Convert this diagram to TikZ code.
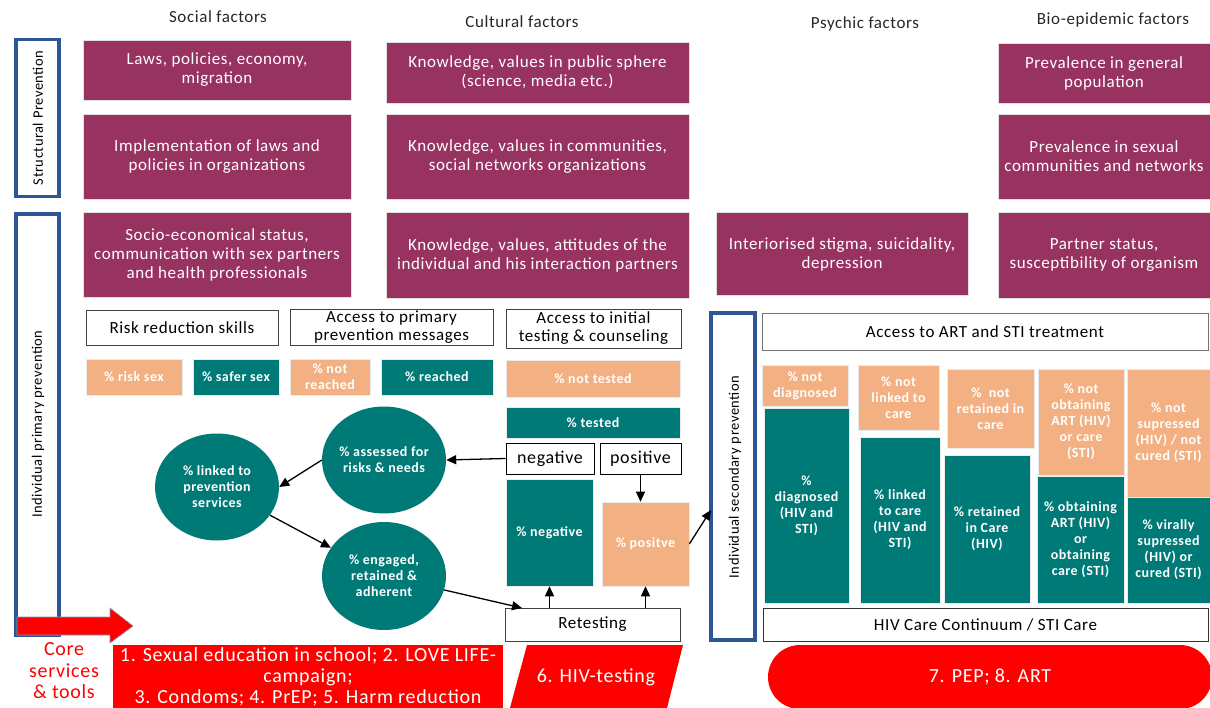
\documentclass[tikz,border=0pt]{standalone}
\usepackage{fontspec}
\setmainfont{Carlito}[LetterSpace=3.5]
\usetikzlibrary{shapes.geometric,arrows.meta,calc}
\definecolor{purp}{RGB}{152,50,97}
\definecolor{tealc}{RGB}{0,122,119}
\definecolor{peachc}{RGB}{243,176,130}
\definecolor{bluec}{RGB}{47,85,151}
\definecolor{redc}{RGB}{255,0,0}
\begin{document}
\begin{tikzpicture}[x=1pt,y=-1pt,
  hdr/.style={font=\fontsize{17}{19}\selectfont, text=black!85},
  pbox/.style={rectangle, fill=purp, draw=black!12, line width=0.6pt, text=white, align=center, inner sep=0pt, font=\fontsize{17}{19}\selectfont},
  wbox/.style={rectangle, fill=white, draw=black!75, line width=0.9pt, align=center, inner sep=0pt, font=\fontsize{17}{18}\selectfont},
  pch/.style={rectangle, fill=peachc, draw=black!8, line width=0.6pt, text=white, align=center, inner sep=0pt, font=\bfseries\fontsize{14}{16}\selectfont},
  tl/.style={rectangle, fill=tealc, draw=black!8, line width=0.6pt, text=white, align=center, inner sep=0pt, font=\bfseries\fontsize{14}{16}\selectfont},
  circ/.style={ellipse, fill=tealc, text=white, align=center, inner sep=0pt, inner xsep=-6pt, font=\bfseries\fontsize{14}{16}\selectfont},
  bluebox/.style={rectangle, draw=bluec, line width=3.5pt, inner sep=0pt},
  vlab/.style={rotate=90, font=\fontsize{14.5}{16}\selectfont},
  arr/.style={-{Triangle[length=10pt,width=9pt]}, line width=1.3pt},
  redbox/.style={fill=redc, text=white, font=\fontsize{20}{21}\selectfont, align=center, inner sep=0pt}
]
\useasboundingbox (0,0) rectangle (1210,708);

% headers
\node[hdr] (h1) at (218,17) {Social factors};
\node[hdr] (h2) at (522,22) {Cultural factors};
\node[hdr] (h3) at (865,24) {Psychic factors};
\node[hdr] (h4) at (1113,20) {Bio-epidemic factors};

% blue frames
\node[bluebox, minimum width=43, minimum height=157] (sp) at (37.5,118) {};
\node[vlab] (spl) at (38,118) {Structural Prevention};
\node[bluebox, minimum width=43, minimum height=421] (ipp) at (37.5,424.5) {};
\node[vlab] (ippl) at (38,424) {Individual primary prevention};
\node[bluebox, minimum width=44, minimum height=327] (isp) at (733,476.5) {};
\node[vlab] (ispl) at (735,477) {Individual secondary prevention};

% purple rows
\node[pbox, minimum width=268, minimum height=60] (p11) at (217,70) {Laws, policies, economy,\\migration};
\node[pbox, minimum width=303, minimum height=61] (p12) at (537.5,72.5) {Knowledge, values in public sphere\\(science, media etc.)};
\node[pbox, minimum width=212, minimum height=60] (p14) at (1104,73) {Prevalence in general\\population};
\node[pbox, minimum width=268, minimum height=85] (p21) at (217,156.5) {Implementation of laws and\\policies in organizations};
\node[pbox, minimum width=303, minimum height=85] (p22) at (537.5,156.5) {Knowledge, values in communities,\\social networks organizations};
\node[pbox, minimum width=212, minimum height=85] (p24) at (1104,156.5) {Prevalence in sexual\\communities and networks};
\node[pbox, minimum width=268, minimum height=85] (p31) at (217,254.5) {Socio-economical status,\\communication with sex partners\\and health professionals};
\node[pbox, minimum width=303, minimum height=86] (p32) at (537.5,255) {Knowledge, values, attitudes of the\\individual and his interaction partners};
\node[pbox, minimum width=252, minimum height=83] (p33) at (842,254) {Interiorised stigma, suicidality,\\depression};
\node[pbox, minimum width=212, minimum height=86] (p34) at (1104,255) {Partner status,\\susceptibility of organism};

% primary prevention boxes
\node[wbox, minimum width=192, minimum height=35] (rrs) at (182,327.5) {Risk reduction skills};
\node[wbox, minimum width=203, minimum height=36] (apm) at (391.5,327) {Access to primary\\prevention messages};
\node[wbox, minimum width=175, minimum height=39] (ait) at (593.5,328.5) {Access to initial\\testing \& counseling};

\node[pch, minimum width=96, minimum height=36] (rs) at (134,377) {\% risk sex};
\node[tl, minimum width=86, minimum height=36] (ss) at (236,377) {\% safer sex};
\node[pch, minimum width=80, minimum height=36] (nr) at (330,377) {\% not\\reached};
\node[tl, minimum width=112, minimum height=36] (re) at (437,377) {\% reached};
\node[pch, minimum width=174, minimum height=37] (nt) at (593,378.5) {\% not tested};
\node[tl, minimum width=174, minimum height=31] (te) at (593,422.5) {\% tested};
\node[wbox, draw=black, font=\fontsize{18}{19}\selectfont, minimum width=88, minimum height=31] (neg) at (550,458.5) {negative};
\node[wbox, draw=black, font=\fontsize{18}{19}\selectfont, minimum width=81, minimum height=31] (posb) at (640.5,458.5) {positive};
\node[tl, minimum width=87, minimum height=107] (negp) at (549.5,532.5) {\% negative};
\node[pch, minimum width=87, minimum height=84] (posp) at (645.5,544) {\% positve};
\node[wbox, minimum width=175, minimum height=33] (ret) at (592.5,624.5) {Retesting};

% circles
\node[circ, minimum width=124, minimum height=107] (linked) at (217,487) {\% linked to\\prevention\\services};
\node[circ, minimum width=124, minimum height=107] (assess) at (384,460) {\% assessed for\\risks \& needs};
\node[circ, minimum width=124, minimum height=108] (eng) at (384,576) {\% engaged,\\retained \&\\adherent};

% connectors
\coordinate (retin) at (522,608);
\coordinate (secin) at (711,510);
\draw[arr] (neg.west) -- (assess.east);
\draw[arr] (assess.west) -- (linked.east);
\draw[arr] (linked.-28) -- (eng.152);
\draw[arr] (eng) -- (retin);
\draw[arr] (negp.south |- ret.north) -- (negp.south);
\draw[arr] (posp.south |- ret.north) -- (posp.south);
\draw[arr] (posb.south) -- (posb.south |- posp.north);
\draw[arr] (posp.east) -- (secin);

% secondary prevention
\node[wbox, draw=black!55, minimum width=446, minimum height=37] (art) at (985,331.5) {Access to ART and STI treatment};
\node[pch, minimum width=86, minimum height=41] (c1a) at (805,385.5) {\% not\\diagnosed};
\node[tl, minimum width=85, minimum height=195] (c1b) at (806.5,505.5) {\%\\diagnosed\\(HIV and\\STI)};
\node[pch, minimum width=81, minimum height=65] (c2a) at (898.5,397.5) {\% not\\linked to\\care};
\node[tl, minimum width=80, minimum height=166] (c2b) at (900,520) {\% linked\\to care\\(HIV and\\STI)};
\node[pch, minimum width=87, minimum height=79] (c3a) at (990.5,408.5) {\%~ not\\retained in\\care};
\node[tl, minimum width=86, minimum height=148] (c3b) at (987,529) {\% retained\\in Care\\(HIV)};
\node[pch, minimum width=86, minimum height=106] (c4a) at (1081,422) {\% not\\obtaining\\ART (HIV)\\or care\\(STI)};
\node[tl, minimum width=87, minimum height=127] (c4b) at (1080.5,539.5) {\% obtaining\\ART (HIV)\\or\\obtaining\\care (STI)};
\node[pch, minimum width=83, minimum height=128] (c5a) at (1168.5,433) {\% not\\supressed\\(HIV) / not\\cured (STI)};
\node[tl, minimum width=83, minimum height=106] (c5b) at (1168.5,550) {\% virally\\supressed\\(HIV) or\\cured (STI)};
\node[wbox, draw=black!80, minimum width=445, minimum height=33] (hcc) at (985.5,624.5) {HIV Care Continuum / STI Care};

% core services
\draw[fill=redc, draw=bluec!60, line width=0.6pt] (17,617) -- (110,617) -- (110,608) -- (133,626) -- (110,643) -- (110,635) -- (17,635) -- cycle;
\node[text=redc, align=center, font=\fontsize{20}{21.5}\selectfont] (core) at (64,671) {Core\\services\\\& tools};
\node[redbox, minimum width=390, minimum height=63] (red1) at (308,676.5) {1. Sexual education in school; 2. LOVE LIFE-\\campaign;\\3. Condoms; 4. PrEP; 5. Harm reduction};
\fill[redc] (527,645) -- (683,645) -- (667,708) -- (510,708) -- cycle;
\node[text=white, font=\fontsize{20}{21}\selectfont] (hivt) at (596,677) {6. HIV-testing};
\node[redbox, rectangle, rounded corners=32pt, minimum width=444, minimum height=64] (pep) at (990,677) {7. PEP; 8. ART};
\end{tikzpicture}
\end{document}
